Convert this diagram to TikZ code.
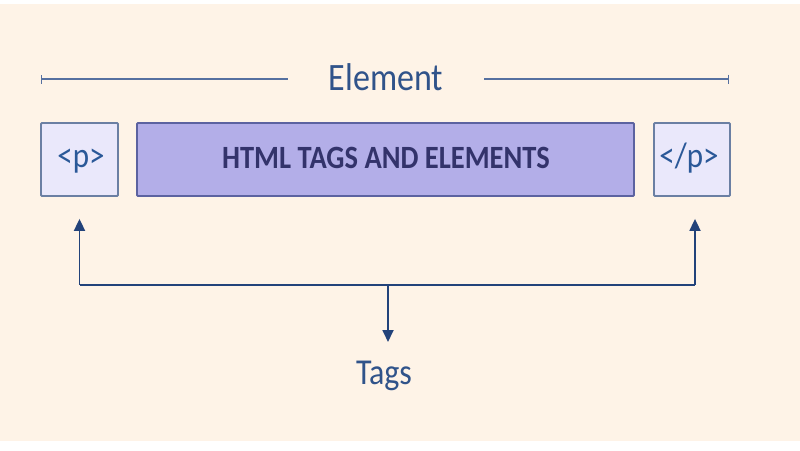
\documentclass[tikz,border=0pt]{standalone}
\usepackage{fontspec}
\setmainfont{Carlito}
\usetikzlibrary{arrows.meta}
\definecolor{bgpeach}{HTML}{FEF3E7}
\definecolor{tagfill}{HTML}{EAE8FB}
\definecolor{tagdraw}{HTML}{6B7FA3}
\definecolor{midfill}{HTML}{B3AEE8}
\definecolor{middraw}{HTML}{5C62A0}
\definecolor{tagtext}{HTML}{2A5898}
\definecolor{labtext}{HTML}{30538A}
\definecolor{midtext}{HTML}{33336B}
\definecolor{eline}{HTML}{5670A0}
\definecolor{aline}{HTML}{22427A}
\newcommand{\tallish}[1]{\scalebox{1}[1.14]{#1}}
\tikzset{
  tagbox/.style={draw=tagdraw, fill=tagfill, line width=1.8pt, rounded corners=1pt, inner sep=0pt},
  midbox/.style={draw=middraw, fill=midfill, line width=1.8pt, rounded corners=1pt, inner sep=0pt},
  tagtxt/.style={text=tagtext, font=\fontsize{31}{36}\selectfont, inner sep=0pt, anchor=base},
  labtxt/.style={text=labtext, inner sep=0pt, anchor=base},
  elinestyle/.style={draw=eline, line width=1.6pt},
  conn/.style={draw=aline, line width=1.8pt},
  arr/.style={conn, -{Triangle[width=11pt,length=12pt]}}
}
\begin{document}
\begin{tikzpicture}[x=1pt,y=-1pt]
\useasboundingbox (0,0) rectangle (800,450);
\fill[bgpeach] (0,4) rectangle (800,441);
% element bracket
\node[labtxt, font=\fontsize{34}{40}\selectfont] (elem) at (386,90) {\tallish{Element}};
\coordinate (eL) at (41,79);
\coordinate (eLin) at (288,79);
\coordinate (eRin) at (484,79);
\coordinate (eR) at (729,79);
\draw[elinestyle, {Bar[width=9pt,line width=1.4pt]}-] (eL) -- (eLin);
\draw[elinestyle, -{Bar[width=9pt,line width=1.4pt]}] (eRin) -- (eR);
% boxes
\node[tagbox, minimum width=77pt, minimum height=73pt] (lp) at (79.5,159.5) {};
\node[midbox, minimum width=497pt, minimum height=73pt] (mid) at (385.5,159.5) {};
\node[tagbox, minimum width=76pt, minimum height=73pt] (rp) at (692,159.5) {};
\node[tagtxt] (lpt) at (81,167) {\tallish{<p>}};
\node[tagtxt] (rpt) at (689,167) {\tallish{</p>}};
\node[inner sep=0pt, anchor=base, text=midtext, font=\bfseries\fontsize{28.5}{34}\selectfont] (midt) at (386,168.5) {\tallish{HTML TAGS AND ELEMENTS}};
% tags connectors
\node[labtxt, font=\fontsize{32}{38}\selectfont] (tags) at (384,384) {\tallish{Tags}};
\coordinate (bl) at (79.5,285);
\coordinate (br) at (695,285);
\coordinate (j) at (388,285);
\draw[conn] (bl) -- (br);
\draw[arr, shorten >=22pt] (bl) -- (bl |- lp.south);
\draw[arr, shorten >=22pt] (br) -- (br |- rp.south);
\draw[arr] (j) -- (j |- 0,342);
\end{tikzpicture}
\end{document}
